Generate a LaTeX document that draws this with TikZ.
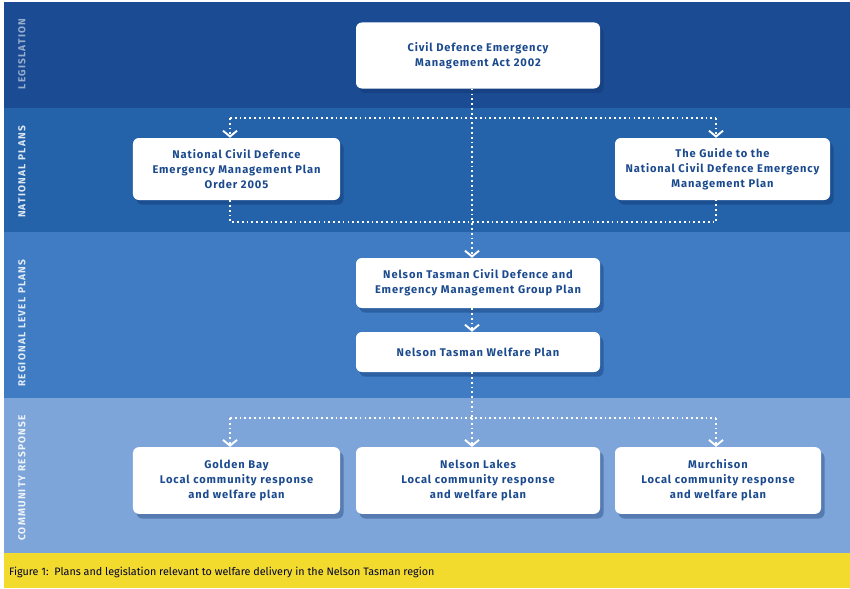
\documentclass[tikz,border=0pt]{standalone}
\usepackage{fontspec}
\setmainfont{Fira Sans}
\newfontfamily\boxfont{Fira Sans}[LetterSpace=8]
\newfontfamily\bandfont{Fira Sans}[LetterSpace=12]
\usetikzlibrary{arrows.meta,shadows}

\definecolor{legiscol}{HTML}{1B4C93}
\definecolor{natcol}{HTML}{2462AA}
\definecolor{regcol}{HTML}{3F7CC3}
\definecolor{comcol}{HTML}{7DA5D9}
\definecolor{capcol}{HTML}{F2DB2C}
\definecolor{boxtext}{HTML}{1B4A8E}
\definecolor{shadowcol}{HTML}{0E2E66}

\tikzset{
	planbox/.style={fill=white, rounded corners=5pt, inner sep=0pt, align=center, text=boxtext,
		font=\boxfont\bfseries\fontsize{9.5}{12.8}\selectfont,
		drop shadow={shadow xshift=3pt, shadow yshift=-4pt, fill=shadowcol, opacity=0.35}},
	bandlabel/.style={rotate=90, font=\bandfont\bfseries\fontsize{8.6}{10}\selectfont},
	link/.style={white, line width=1.6pt, dash pattern=on 1.5pt off 2.6pt},
	arrowlink/.style={link, -{Straight Barb[length=5pt, width=12pt, line width=1.6pt]}}
}

\begin{document}
\begin{tikzpicture}[x=0.03cm, y=-0.03cm]

	\useasboundingbox (0,0) rectangle (850,588);
	\fill[white]    (0,0)   rectangle (850,588);
	\fill[legiscol] (4,2)   rectangle (850,108);
	\fill[natcol]   (4,108) rectangle (850,232);
	\fill[regcol]   (4,232) rectangle (850,398);
	\fill[comcol]   (4,398) rectangle (850,553);
	\fill[capcol]   (4,553) rectangle (850,588);

	\node[bandlabel, text=legiscol!45!white] (legis)  at (22, 54)  {LEGISLATION};
	\node[bandlabel, text=white!85!natcol]   (natl)   at (22, 172) {NATIONAL PLANS};
	\node[bandlabel, text=white!85!regcol]   (regl)   at (22, 323) {REGIONAL LEVEL PLANS};
	\node[bandlabel, text=white!88!comcol]   (comm)   at (22, 478) {COMMUNITY RESPONSE};

	\node[planbox, minimum width=7.32cm, minimum height=1.98cm] (act)     at (478, 55.5)  {Civil Defence Emergency\\Management Act 2002};
	\node[planbox, minimum width=6.21cm, minimum height=1.86cm] (natplan) at (236.5, 169) {National Civil Defence\\Emergency Management Plan\\Order 2005};
	\node[planbox, minimum width=6.45cm, minimum height=1.86cm] (guide)   at (722.5, 169) {The Guide to the\\National Civil Defence Emergency\\Management Plan};
	\node[planbox, minimum width=7.32cm, minimum height=1.50cm] (group)   at (478, 283)   {Nelson Tasman Civil Defence and\\Emergency Management Group Plan};
	\node[planbox, minimum width=7.32cm, minimum height=1.20cm] (welfare) at (478, 352)   {Nelson Tasman Welfare Plan};
	\node[planbox, minimum width=6.21cm, minimum height=2.00cm] (golden)  at (236.5, 480.5) {Golden Bay\\Local community response\\and welfare plan};
	\node[planbox, minimum width=7.32cm, minimum height=2.00cm] (lakes)   at (478, 480.5)   {Nelson Lakes\\Local community response\\and welfare plan};
	\node[planbox, minimum width=6.18cm, minimum height=2.00cm] (murch)   at (718, 480.5)   {Murchison\\Local community response\\and welfare plan};

	\node[anchor=west, text=black!80!blue, font=\fontsize{9.2}{11}\selectfont] (caption) at (5, 572) {Figure 1:\ \ Plans and legislation relevant to welfare delivery in the Nelson Tasman region};

	\coordinate (split1) at (472, 118);
	\coordinate (split2) at (472, 222);
	\coordinate (split3) at (472, 418);
	\coordinate (leftx)  at (230, 0);
	\coordinate (rightx) at (716, 0);

	\draw[arrowlink] (act.south -| split1)     -- (group.north -| split1);
	\draw[link]      (split1 -| leftx)         -- (split1 -| rightx);
	\draw[arrowlink] (split1 -| leftx)         -- (natplan.north -| leftx);
	\draw[arrowlink] (split1 -| rightx)        -- (guide.north -| rightx);
	\draw[link]      (natplan.south -| leftx)  -- (split2 -| leftx) -- (split2 -| rightx) -- (guide.south -| rightx);
	\draw[arrowlink] (group.south -| split1)   -- (welfare.north -| split1);
	\draw[link]      (welfare.south -| split3) -- (split3);
	\draw[link]      (split3 -| leftx)         -- (split3 -| rightx);
	\draw[arrowlink] (split3 -| leftx)         -- (golden.north -| leftx);
	\draw[arrowlink] (split3)                  -- (lakes.north -| split3);
	\draw[arrowlink] (split3 -| rightx)        -- (murch.north -| rightx);
\end{tikzpicture}
\end{document}
